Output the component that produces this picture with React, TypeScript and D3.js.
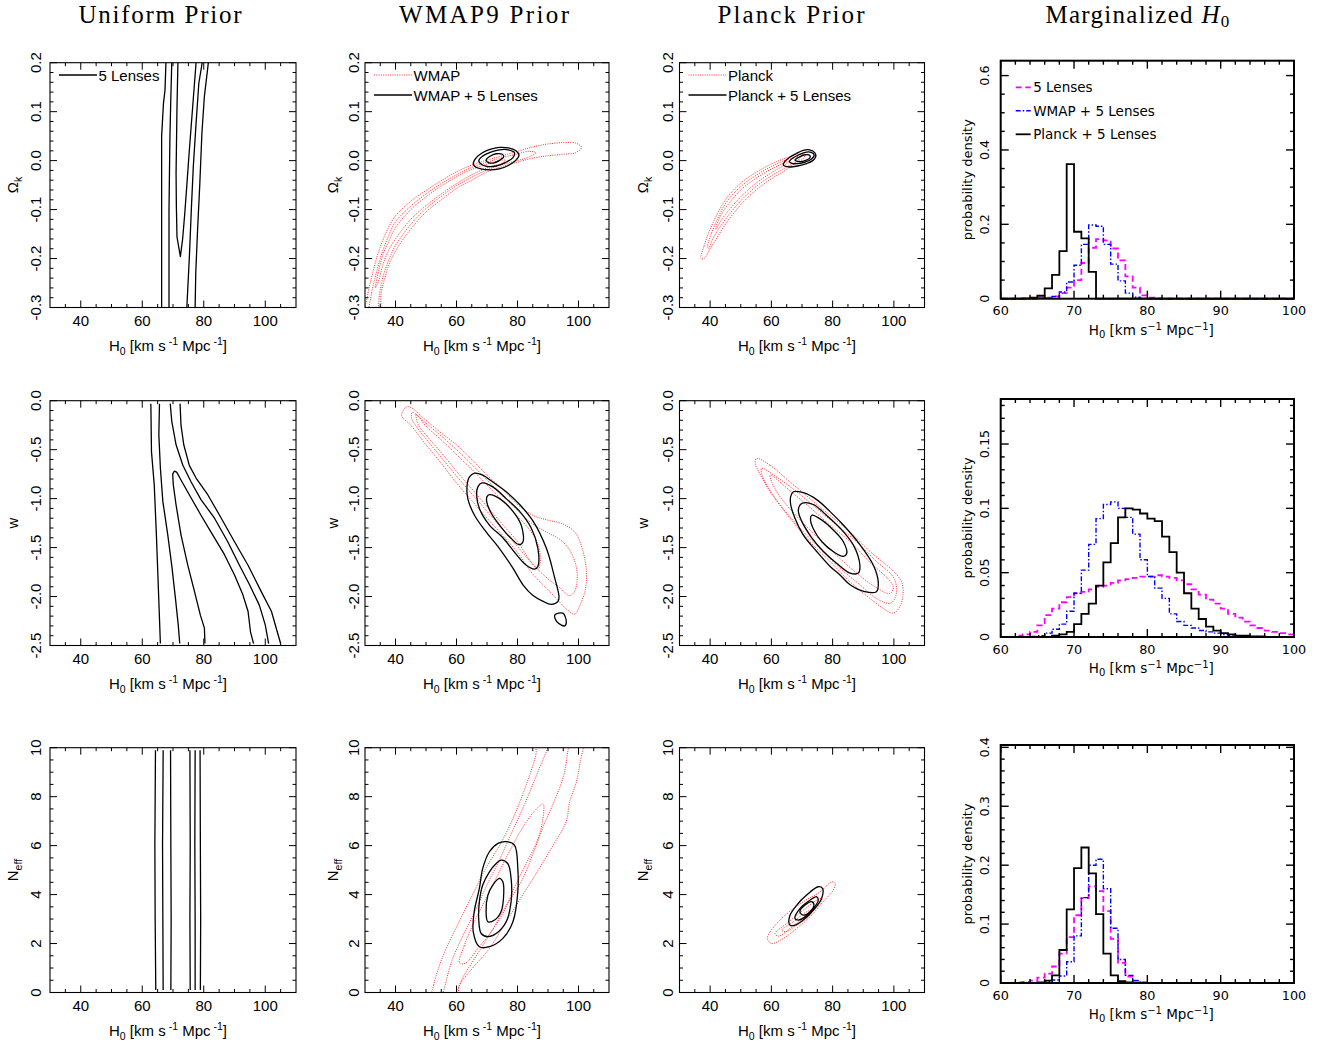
import React from "react";
import * as d3 from "d3";

type P = [number, number];

// ---------------- tick labels ----------------
const H0_TICKS = [40, 60, 80, 100];
const OK_TICKS = [-0.3, -0.2, -0.1, 0.0, 0.1, 0.2];
const W_TICKS = [-2.5, -2.0, -1.5, -1.0, -0.5, 0.0];
const N_TICKS = [0, 2, 4, 6, 8, 10];
const HIST_X_TICKS = [60, 70, 80, 90, 100];
const HIST_Y_TICKS_1 = [0, 0.2, 0.4, 0.6];
const HIST_Y_TICKS_2 = [0, 0.05, 0.1, 0.15];
const HIST_Y_TICKS_3 = [0, 0.1, 0.2, 0.3, 0.4];

// ---------------- histogram data (bins of width 1 from 60 to 100) ----------------
const HIST_BINS = d3.range(60, 100);

const H1_BLACK = [
  0, 0, 0, 0.001, 0.003, 0.008, 0.028, 0.064, 0.128, 0.362,
  0.18, 0.162, 0.072, 0, 0, 0, 0, 0, 0, 0,
  0, 0, 0, 0, 0, 0, 0, 0, 0, 0,
  0, 0, 0, 0, 0, 0, 0, 0, 0, 0,
];
const H1_BLUE = [
  0, 0, 0, 0, 0, 0.001, 0.002, 0.006, 0.018, 0.045,
  0.09, 0.146, 0.198, 0.195, 0.146, 0.093, 0.048, 0.015, 0.004, 0.001,
  0, 0, 0, 0, 0, 0, 0, 0, 0, 0,
  0, 0, 0, 0, 0, 0, 0, 0, 0, 0,
];
const H1_MAG = [
  0, 0, 0, 0, 0.001, 0.002, 0.003, 0.006, 0.015, 0.03,
  0.05, 0.096, 0.137, 0.16, 0.157, 0.135, 0.103, 0.06, 0.03, 0.009,
  0.003, 0.001, 0, 0, 0, 0, 0, 0, 0, 0,
  0, 0, 0, 0, 0, 0, 0, 0, 0, 0,
];
const H2_BLACK = [
  0, 0, 0, 0, 0, 0, 0, 0.001, 0.002, 0.004,
  0.01, 0.018, 0.026, 0.04, 0.058, 0.073, 0.093, 0.1, 0.099, 0.096,
  0.092, 0.09, 0.078, 0.066, 0.05, 0.034, 0.022, 0.014, 0.008, 0.005,
  0.003, 0.002, 0.001, 0.001, 0.0005, 0.0005, 0, 0, 0, 0,
];
const H2_BLUE = [
  0, 0, 0, 0, 0.0005, 0.001, 0.003, 0.006, 0.01, 0.02,
  0.034, 0.052, 0.072, 0.092, 0.103, 0.105, 0.1, 0.093, 0.08, 0.06,
  0.047, 0.038, 0.03, 0.018, 0.012, 0.009, 0.007, 0.005, 0.004, 0.003,
  0.002, 0.001, 0.001, 0.0005, 0.0005, 0, 0, 0, 0, 0,
];
const H2_MAG = [
  0, 0, 0.001, 0.002, 0.004, 0.009, 0.017, 0.022, 0.027, 0.031,
  0.034, 0.035, 0.037, 0.039, 0.04, 0.042, 0.044, 0.045, 0.046, 0.047,
  0.047, 0.048, 0.047, 0.046, 0.044, 0.041, 0.037, 0.033, 0.029, 0.026,
  0.022, 0.018, 0.015, 0.012, 0.009, 0.007, 0.005, 0.004, 0.003, 0.002,
];
const H3_BLACK = [
  0, 0, 0, 0, 0, 0.001, 0.004, 0.013, 0.056, 0.125,
  0.195, 0.23, 0.186, 0.117, 0.05, 0.013, 0.003, 0.001, 0, 0,
  0, 0, 0, 0, 0, 0, 0, 0, 0, 0,
  0, 0, 0, 0, 0, 0, 0, 0, 0, 0,
];
const H3_BLUE = [
  0, 0, 0, 0, 0, 0.0005, 0.002, 0.005, 0.012, 0.036,
  0.08, 0.145, 0.2, 0.21, 0.16, 0.093, 0.04, 0.013, 0.004, 0.001,
  0, 0, 0, 0, 0, 0, 0, 0, 0, 0,
  0, 0, 0, 0, 0, 0, 0, 0, 0, 0,
];
const H3_MAG = [
  0, 0, 0.001, 0.002, 0.004, 0.009, 0.016, 0.028, 0.05, 0.078,
  0.115, 0.144, 0.164, 0.156, 0.122, 0.075, 0.034, 0.011, 0.004, 0.001,
  0, 0, 0, 0, 0, 0, 0, 0, 0, 0,
  0, 0, 0, 0, 0, 0, 0, 0, 0, 0,
];

// ---------------- contour data: [H0, parameter] ----------------
// Uniform prior, Omega_k
const UNI_OK_OUT_L: P[] = [[66.3, -0.3], [66.3, -0.1], [66.3, 0.05], [66.9, 0.117], [67.4, 0.144], [67.7, 0.2]];
const UNI_OK_MID_L: P[] = [[68.7, -0.3], [68.7, -0.1], [69.0, 0.05], [69.3, 0.13], [69.6, 0.2]];
const UNI_OK_IN: P[] = [[71.6, 0.2], [71.3, 0.11], [71.0, -0.026], [71.1, -0.094], [71.3, -0.156], [72.4, -0.196], [73.1, -0.162], [73.8, -0.11], [74.5, -0.05], [75.3, 0.02], [76.4, 0.11], [77.5, 0.2]];
const UNI_OK_MID_R: P[] = [[74.5, -0.3], [75.3, -0.2], [76.0, -0.094], [76.6, -0.013], [77.5, 0.076], [78.4, 0.158], [79.5, 0.2]];
const UNI_OK_OUT_R: P[] = [[77.2, -0.3], [77.4, -0.23], [78.0, -0.14], [78.7, -0.05], [79.4, 0.056], [80.2, 0.131], [81.5, 0.2]];

// Uniform prior, w
const UNI_W_OUT_L: P[] = [[62.8, -0.03], [63.0, -0.52], [63.9, -0.86], [64.6, -1.37], [65.2, -1.88], [65.9, -2.48]];
const UNI_W_MID_L: P[] = [[65.6, -0.03], [65.4, -0.35], [65.9, -0.69], [66.7, -1.03], [68.3, -1.37], [69.7, -1.71], [70.9, -2.05], [71.7, -2.29], [72.2, -2.48]];
const UNI_W_IN: P[] = [[80.4, -2.48], [80.2, -2.32], [78.9, -2.19], [77.0, -1.95], [74.8, -1.68], [72.6, -1.37], [71.0, -1.065], [70.1, -0.86], [69.9, -0.75], [70.4, -0.72], [71.2, -0.73], [72.6, -0.81], [75.3, -0.96], [79.1, -1.17], [82.9, -1.37], [86.7, -1.57], [90.0, -1.78], [92.7, -1.98], [94.4, -2.15], [95.2, -2.36], [96.2, -2.48]];
const UNI_W_MID_R: P[] = [[69.1, -0.03], [69.6, -0.21], [71.0, -0.45], [73.2, -0.66], [75.9, -0.83], [79.1, -1.01], [83.5, -1.2], [87.8, -1.44], [91.6, -1.68], [94.9, -1.88], [98.1, -2.09], [100.0, -2.29], [101.1, -2.48]];
const UNI_W_OUT_R: P[] = [[72.3, -0.03], [72.6, -0.25], [73.5, -0.45], [75.3, -0.66], [77.5, -0.79], [81.3, -0.96], [85.7, -1.2], [90.0, -1.44], [94.4, -1.68], [98.7, -1.95], [102.0, -2.15], [103.9, -2.36], [105.0, -2.48]];

// Uniform prior, N_eff
const UNI_N_1: P[] = [[64.4, 0.1], [64.2, 3], [64.1, 6], [64.3, 9.9]];
const UNI_N_2: P[] = [[66.8, 0.1], [66.7, 3], [66.6, 6], [66.8, 9.9]];
const UNI_N_3: P[] = [[69.3, 0.1], [69.4, 3], [69.3, 6], [69.2, 9.9]];
const UNI_N_4: P[] = [[75.6, 0.1], [75.5, 3], [75.6, 6], [75.5, 9.9]];
const UNI_N_5: P[] = [[77.2, 0.1], [77.2, 3], [77.1, 6], [77.2, 9.9]];
const UNI_N_6: P[] = [[78.9, 0.1], [79.0, 3], [78.9, 6], [78.8, 9.9]];

// WMAP prior, Omega_k
const WMAP_OK_3: P[] = [[30.3, -0.32], [31, -0.27], [32.5, -0.23], [34, -0.195], [36, -0.16], [38, -0.133], [40, -0.113], [45, -0.083], [50, -0.061], [55, -0.041], [60, -0.023], [65, -0.009], [70, 0.001], [75, 0.01], [80, 0.019], [85, 0.028], [90, 0.034], [95, 0.037], [99, 0.036], [101, 0.027], [99, 0.016], [95, 0.013], [90, 0.01], [85, 0.005], [80, -0.003], [75, -0.012], [70, -0.023], [65, -0.04], [60, -0.057], [55, -0.08], [50, -0.105], [45, -0.14], [42, -0.165], [40, -0.185], [38, -0.21], [36.5, -0.24], [35.3, -0.27], [34.5, -0.32]];
const WMAP_OK_2: P[] = [[31.4, -0.32], [32.2, -0.27], [33.7, -0.23], [35.5, -0.19], [38, -0.15], [40, -0.125], [45, -0.093], [50, -0.068], [55, -0.047], [60, -0.029], [65, -0.014], [70, -0.003], [75, 0.006], [80, 0.014], [84, 0.019], [86, 0.016], [84, 0.008], [80, 0.0], [75, -0.008], [70, -0.019], [65, -0.034], [60, -0.051], [55, -0.073], [50, -0.098], [45, -0.13], [42, -0.155], [40, -0.173], [38, -0.2], [36, -0.235], [34.8, -0.27], [33.6, -0.32]];
const WMAP_OK_1: P[] = [[33.4, -0.26], [34.3, -0.23], [36, -0.19], [38, -0.162], [40, -0.137], [45, -0.1], [50, -0.074], [55, -0.052], [60, -0.033], [65, -0.018], [70, -0.007], [74, 0.0], [76, 0.001], [75, -0.005], [70, -0.015], [65, -0.029], [60, -0.047], [55, -0.068], [50, -0.092], [45, -0.12], [40, -0.16], [38, -0.18], [36, -0.21], [34.5, -0.245]];
const WMAP_L_OK_3: P[] = [[65.5, -0.006], [66.5, 0.006], [68.5, 0.016], [71, 0.023], [74, 0.027], [77, 0.026], [79.5, 0.02], [80.5, 0.011], [79.5, 0.001], [77, -0.01], [74, -0.017], [71, -0.019], [68, -0.017], [66, -0.012]];
const WMAP_L_OK_2: P[] = [[67.3, 0.0], [68.5, 0.009], [71, 0.017], [74, 0.022], [77, 0.022], [79, 0.016], [78.5, 0.006], [76, -0.004], [73, -0.011], [70, -0.012], [68, -0.007]];
const WMAP_L_OK_1: P[] = [[69.7, 0.001], [71, 0.009], [73, 0.014], [75, 0.013], [75.5, 0.008], [74, 0.0], [72, -0.005], [70.5, -0.004]];

// Planck prior, Omega_k
const PL_OK_3: P[] = [[37, -0.2], [38, -0.175], [40, -0.14], [45, -0.08], [50, -0.046], [55, -0.024], [60, -0.007], [65, 0.006], [69, 0.013], [71, 0.012], [70, 0.002], [68, -0.004], [65, -0.018], [60, -0.037], [55, -0.06], [50, -0.09], [45, -0.13], [42, -0.16], [40, -0.18], [38, -0.2]];
const PL_OK_2: P[] = [[39.2, -0.175], [40.5, -0.148], [45, -0.088], [50, -0.053], [55, -0.03], [60, -0.012], [65, 0.002], [68, 0.008], [69.5, 0.008], [68.5, 0.0], [65, -0.013], [60, -0.031], [55, -0.053], [50, -0.082], [45, -0.12], [41, -0.158], [39.5, -0.18]];
const PL_OK_1: P[] = [[41.8, -0.14], [43, -0.118], [45, -0.097], [50, -0.06], [55, -0.036], [60, -0.017], [64, -0.005], [66, 0.0], [65, -0.006], [60, -0.025], [55, -0.046], [50, -0.074], [45, -0.11], [43, -0.128], [42, -0.14]];
const PL_L_OK_3: P[] = [[63.9, -0.009], [64.5, -0.001], [66, 0.007], [68, 0.014], [70.4, 0.021], [72.5, 0.022], [74.2, 0.016], [74.5, 0.008], [73.5, 0.0], [71.5, -0.006], [68.5, -0.011], [66, -0.013]];
const PL_L_OK_2: P[] = [[65.9, -0.002], [67, 0.005], [69, 0.012], [71, 0.017], [73, 0.017], [74, 0.011], [73, 0.003], [71, -0.003], [68.5, -0.006], [67, -0.006]];
const PL_L_OK_1: P[] = [[67.7, 0.001], [69, 0.007], [71, 0.012], [72.5, 0.011], [72.6, 0.006], [71, 0.0], [69.3, -0.002]];

// WMAP prior, w
const WMAP_W_3: P[] = [[44, -0.06], [50, -0.2], [55, -0.33], [60, -0.45], [65, -0.6], [70, -0.76], [75, -0.9], [80, -1.06], [85, -1.17], [90, -1.22], [95, -1.26], [99, -1.35], [101.5, -1.54], [102.6, -1.75], [102.1, -1.95], [100.3, -2.1], [98.8, -2.18], [96.5, -2.14], [93, -2.03], [90, -1.93], [85, -1.77], [80, -1.55], [75, -1.37], [70, -1.2], [65, -1.02], [60, -0.84], [55, -0.64], [50, -0.45], [45, -0.25], [42, -0.15]];
const WMAP_W_2: P[] = [[45.5, -0.12], [50, -0.23], [55, -0.36], [60, -0.5], [65, -0.65], [70, -0.81], [75, -0.97], [80, -1.12], [85, -1.26], [90, -1.35], [94, -1.42], [97, -1.52], [99.3, -1.7], [99.5, -1.85], [98.5, -1.96], [97, -1.99], [93.5, -1.9], [90, -1.82], [85, -1.67], [80, -1.49], [75, -1.31], [70, -1.13], [65, -0.95], [60, -0.77], [55, -0.58], [50, -0.39], [47, -0.27], [45.3, -0.18]];
const WMAP_W_1: P[] = [[46.8, -0.14], [50, -0.26], [55, -0.4], [60, -0.55], [65, -0.7], [70, -0.86], [75, -1.02], [80, -1.18], [84, -1.32], [86.5, -1.45], [87.5, -1.6], [86.8, -1.72], [84.5, -1.65], [80, -1.44], [75, -1.26], [70, -1.08], [65, -0.9], [60, -0.72], [55, -0.53], [50, -0.35], [47.5, -0.25]];
const WMAP_L_W_3: P[] = [[65.9, -0.74], [68.6, -0.76], [71.9, -0.83], [76.3, -0.93], [80.7, -1.06], [85.1, -1.23], [89.5, -1.51], [92.2, -1.81], [93.6, -2.0], [93.3, -2.05], [91.1, -2.08], [88.4, -2.05], [85.1, -1.99], [81.8, -1.88], [78.5, -1.71], [74.1, -1.51], [69.7, -1.34], [65.9, -1.17], [63.7, -1.0], [63.5, -0.86], [64.2, -0.78]];
const WMAP_L_W_ISLAND: P[] = [[92.2, -2.19], [94.9, -2.17], [96, -2.26], [95.5, -2.3], [93, -2.26]];
const WMAP_L_W_2: P[] = [[68.4, -0.84], [71.9, -0.88], [76.3, -1.0], [80.7, -1.13], [84.5, -1.3], [86.7, -1.51], [86.7, -1.69], [85.6, -1.72], [82.9, -1.68], [79.6, -1.57], [75.2, -1.4], [70.8, -1.27], [67.5, -1.1], [66.6, -0.96], [67, -0.88]];
const WMAP_L_W_1: P[] = [[70.8, -0.96], [74.6, -1.01], [78.5, -1.13], [81.2, -1.27], [81.8, -1.44], [80.5, -1.47], [77.4, -1.39], [74.1, -1.27], [71.4, -1.15], [69.9, -1.03], [70, -0.98]];

// Planck prior, w
const PL_W_3: P[] = [[55.2, -0.59], [59.6, -0.66], [66.1, -0.83], [72.6, -1.0], [79.1, -1.17], [85.7, -1.34], [92.2, -1.54], [99.8, -1.74], [102.5, -1.85], [103, -1.98], [102, -2.1], [99.8, -2.17], [96.5, -2.12], [92.2, -2.02], [85.7, -1.85], [79.1, -1.64], [72.6, -1.44], [66.1, -1.2], [59.6, -0.93], [55.8, -0.72], [54.7, -0.64]];
const PL_W_2: P[] = [[56.8, -0.69], [61.7, -0.78], [68.3, -0.93], [74.8, -1.1], [81.3, -1.27], [87.8, -1.44], [94.3, -1.64], [99.8, -1.8], [100.9, -1.92], [100.3, -2.02], [98.7, -2.07], [94.3, -2.02], [88.9, -1.88], [82.4, -1.71], [75.9, -1.51], [69.3, -1.3], [62.8, -1.06], [58.5, -0.86], [56.8, -0.74]];
const PL_W_1: P[] = [[59.6, -0.76], [66.1, -0.92], [72.6, -1.09], [79.1, -1.27], [85.7, -1.44], [92.2, -1.65], [98.7, -1.84], [99.8, -1.91], [98.7, -1.97], [94.3, -1.91], [87.8, -1.76], [81.3, -1.58], [74.8, -1.39], [68.3, -1.18], [62.8, -0.98], [60.1, -0.83]];
const PL_L_W_3: P[] = [[67.2, -0.93], [70.4, -0.94], [74.8, -1.01], [79.1, -1.13], [83.5, -1.27], [88.9, -1.47], [93.3, -1.68], [94.9, -1.85], [94.3, -1.95], [90.5, -1.95], [85.7, -1.88], [82.4, -1.78], [79.1, -1.69], [74.8, -1.54], [70.4, -1.37], [67.7, -1.2], [66.3, -1.06], [66.3, -0.98]];
const PL_L_W_2: P[] = [[69.9, -1.05], [73.7, -1.06], [78, -1.17], [82.4, -1.3], [86.7, -1.47], [88.9, -1.68], [88.4, -1.76], [85.7, -1.76], [81.3, -1.66], [77, -1.54], [73.2, -1.4], [69.9, -1.23], [68.8, -1.12]];
const PL_L_W_1: P[] = [[73.2, -1.17], [76.5, -1.22], [80.2, -1.32], [83.5, -1.44], [84.6, -1.56], [83.5, -1.59], [80.2, -1.54], [76.5, -1.44], [73.9, -1.32], [72.8, -1.22]];

// WMAP prior, N_eff
const WMAP_N_3: P[] = [[51.8, -0.3], [52.5, 0.3], [54.4, 1.1], [56.6, 1.8], [60.9, 2.9], [65.3, 4.0], [69.7, 5.1], [74.1, 6.0], [78.5, 7.1], [82.9, 8.5], [86, 9.7], [86.6, 10.3], [101.2, 10.3], [100.5, 9.4], [99.3, 8.6], [97.1, 7.8], [96, 7.0], [91.6, 6.0], [87.3, 5.1], [81.8, 4.0], [76.3, 2.9], [70.8, 1.8], [65.3, 1.0], [61, 0.3], [60, -0.3]];
const WMAP_N_2: P[] = [[55.5, -0.3], [56.5, 0.4], [58.5, 1.3], [62, 2.3], [66, 3.3], [70, 4.4], [74, 5.4], [78, 6.5], [82, 7.6], [86, 8.8], [89, 9.7], [91.6, 10.3], [96.6, 10.3], [96.3, 9.7], [95, 8.8], [92, 7.8], [88.5, 6.8], [85.5, 5.8], [81.5, 4.6], [76, 3.5], [71.5, 2.5], [66.5, 1.5], [62, 0.6], [58.5, -0.3]];
const WMAP_N_1: P[] = [[61, 1.2], [62.5, 1.9], [65.5, 2.8], [69.5, 3.8], [73.5, 4.8], [77.5, 5.8], [81.5, 6.7], [85.5, 7.4], [88.4, 7.7], [88.2, 7.0], [86.5, 6.2], [83, 5.3], [79, 4.3], [75.5, 3.3], [71.5, 2.5], [67, 1.8], [63, 1.2]];
const WMAP_L_N_3: P[] = [[76.3, 6.16], [79, 6.02], [80.1, 5.07], [80.1, 4.11], [78.5, 2.89], [75.2, 2.21], [70.8, 1.87], [67.5, 1.87], [65.5, 2.48], [65.8, 3.3], [67.5, 4.25], [68.6, 5.07], [70.8, 5.75], [73.6, 6.09]];
const WMAP_L_N_2: P[] = [[74.6, 5.41], [76.8, 5.27], [77.9, 4.66], [77.9, 3.71], [76.3, 2.89], [73, 2.41], [70.3, 2.28], [68.1, 2.41], [67.3, 2.96], [67.5, 3.71], [68.6, 4.39], [70.8, 4.93], [73, 5.27]];
const WMAP_L_N_1: P[] = [[74.1, 4.66], [75.2, 4.52], [75.4, 3.84], [74.6, 3.3], [72.5, 2.96], [70.3, 2.89], [69.7, 3.3], [70.3, 3.98], [71.9, 4.39]];

// Planck prior, N_eff
const PL_N_3: P[] = [[58.7, 2.2], [59.6, 2.48], [63.9, 3.09], [70.4, 3.71], [75.9, 4.11], [79.7, 4.52], [80.8, 4.46], [80.2, 4.18], [76.9, 3.71], [72.6, 3.09], [68.3, 2.62], [63.9, 2.21], [60.1, 2.0]];
const PL_N_2: P[] = [[61.2, 2.41], [65, 2.82], [70.4, 3.36], [74.8, 3.77], [76.4, 3.84], [75.9, 3.64], [71.5, 3.16], [66.1, 2.62], [62.3, 2.3]];
const PL_N_1: P[] = [[63.4, 2.55], [67.2, 2.89], [71.5, 3.3], [73.2, 3.36], [72.6, 3.16], [68.3, 2.75], [64.5, 2.48]];
const PL_L_N_3: P[] = [[66.1, 2.75], [65.9, 3.09], [68.3, 3.57], [71.5, 3.98], [75.3, 4.32], [76.7, 4.25], [76.4, 3.84], [73.7, 3.36], [70.4, 2.96], [67.7, 2.75]];
const PL_L_N_2: P[] = [[67.7, 3.02], [69.3, 3.43], [72.6, 3.77], [74.8, 3.91], [75.3, 3.77], [73.7, 3.43], [71, 3.09], [68.8, 2.96]];
const PL_L_N_1: P[] = [[69.3, 3.3], [71, 3.57], [73.2, 3.71], [73.9, 3.57], [72.6, 3.3], [70.4, 3.16]];

// ---------------- styling ----------------
const RED = "#ff2b2b";
const MAGENTA = "#ff00ff";
const BLUE = "#0000ff";
const FONT_C = "'Liberation Sans', Arial, Helvetica, sans-serif";
const FONT_H = "'DejaVu Sans', Verdana, sans-serif";
const FONT_T = "'Liberation Serif', 'Times New Roman', serif";

const COL_X = [50, 365, 679.5];
const COL_W = [246, 244, 245];
const ROW_Y = [62.7, 400.7, 747.7];
const ROW_H = 244.8;
const HIST_X = 1000.7;
const HIST_W = 293.3;
const HIST_Y = [60.7, 399, 745];
const HIST_H = 238;

type Curve = { pts: P[]; kind: "red" | "black"; closed: boolean };

function minorTicks(d0: number, d1: number, step: number, majors: number[]) {
  return d3
    .range(d0, d1 + step * 0.01, step)
    .filter(
      (v) =>
        v > d0 + step * 0.01 &&
        v < d1 - step * 0.01 &&
        !majors.some((m) => Math.abs(m - v) < step * 0.01)
    );
}

function ContourXTitle({ cx, y }: { cx: number; y: number }) {
  return (
    <text x={cx} y={y} textAnchor="middle" fontFamily={FONT_C} fontSize={15} fill="#000">
      H<tspan fontSize={10.5} dy={4}>0</tspan>
      <tspan dy={-4}> [km s</tspan>
      <tspan fontSize={10.5} dy={-6} dx={3}>-1</tspan>
      <tspan dy={6}> Mpc</tspan>
      <tspan fontSize={10.5} dy={-6} dx={3}>-1</tspan>
      <tspan dy={6}>]</tspan>
    </text>
  );
}

function ContourPanel(props: {
  id: string;
  x: number;
  y: number;
  w: number;
  h: number;
  yDomain: [number, number];
  yTicks: number[];
  yMinorStep: number;
  yFmt: (v: number) => string;
  yTitle: React.ReactNode;
  yTickOff: number;
  yTitleOff: number;
  curves: Curve[];
  legend?: { label: string; kind: "red" | "black" }[];
}) {
  const { id, x, y, w, h, yDomain, yTicks, yMinorStep, yFmt, yTitle, yTickOff, yTitleOff, curves, legend } = props;
  const xs = d3.scaleLinear().domain([30, 110]).range([x, x + w]);
  const ys = d3.scaleLinear().domain(yDomain).range([y + h, y]);
  const lineOpen = d3.line<P>().x((d) => xs(d[0])).y((d) => ys(d[1]));
  const lineClosed = d3
    .line<P>()
    .x((d) => xs(d[0]))
    .y((d) => ys(d[1]))
    .curve(d3.curveCatmullRomClosed.alpha(0.5));
  const xMinor = minorTicks(30, 110, 5, H0_TICKS);
  const yMinor = minorTicks(yDomain[0], yDomain[1], yMinorStep, yTicks);
  const MAJ = 7;
  const MIN = 3.5;
  const tickStroke = { stroke: "#000", strokeWidth: 1 };
  return (
    <g>
      <defs>
        <clipPath id={id}>
          <rect x={x} y={y} width={w} height={h} />
        </clipPath>
      </defs>
      <g clipPath={`url(#${id})`}>
        {curves.map((c, i) => (
          <path
            key={i}
            d={(c.closed ? lineClosed(c.pts) : lineOpen(c.pts)) || ""}
            fill="none"
            stroke={c.kind === "red" ? RED : "#000"}
            strokeWidth={c.kind === "red" ? 1 : 1.3}
            strokeDasharray={c.kind === "red" ? "1 1.3" : undefined}
            strokeLinejoin="round"
          />
        ))}
      </g>
      {H0_TICKS.map((v) => (
        <g key={"xM" + v}>
          <line x1={xs(v)} x2={xs(v)} y1={y + h} y2={y + h - MAJ} {...tickStroke} />
          <line x1={xs(v)} x2={xs(v)} y1={y} y2={y + MAJ} {...tickStroke} />
        </g>
      ))}
      {xMinor.map((v) => (
        <g key={"xm" + v}>
          <line x1={xs(v)} x2={xs(v)} y1={y + h} y2={y + h - MIN} {...tickStroke} />
          <line x1={xs(v)} x2={xs(v)} y1={y} y2={y + MIN} {...tickStroke} />
        </g>
      ))}
      {yTicks.map((v) => (
        <g key={"yM" + v}>
          <line x1={x} x2={x + MAJ} y1={ys(v)} y2={ys(v)} {...tickStroke} />
          <line x1={x + w} x2={x + w - MAJ} y1={ys(v)} y2={ys(v)} {...tickStroke} />
        </g>
      ))}
      {yMinor.map((v, i) => (
        <g key={"ym" + i}>
          <line x1={x} x2={x + MIN} y1={ys(v)} y2={ys(v)} {...tickStroke} />
          <line x1={x + w} x2={x + w - MIN} y1={ys(v)} y2={ys(v)} {...tickStroke} />
        </g>
      ))}
      <rect x={x} y={y} width={w} height={h} fill="none" stroke="#000" strokeWidth={1.1} />
      {H0_TICKS.map((v) => (
        <text key={"xl" + v} x={xs(v)} y={y + h + 18.5} textAnchor="middle" fontFamily={FONT_C} fontSize={15}>
          {String(v)}
        </text>
      ))}
      {yTicks.map((v) => (
        <text
          key={"yl" + v}
          transform={`translate(${x - yTickOff},${ys(v)}) rotate(-90)`}
          textAnchor="middle"
          dy="0.35em"
          fontFamily={FONT_C}
          fontSize={15}
        >
          {yFmt(v)}
        </text>
      ))}
      <text
        transform={`translate(${x - yTitleOff},${y + h / 2}) rotate(-90)`}
        textAnchor="middle"
        dy="0.35em"
        fontFamily={FONT_C}
        fontSize={15}
      >
        {yTitle}
      </text>
      <ContourXTitle cx={x + w / 2 - 5} y={y + h + 43} />
      {legend &&
        legend.map((l, i) => (
          <g key={"lg" + i}>
            <line
              x1={x + 9}
              x2={x + 47}
              y1={y + 12.3 + i * 20}
              y2={y + 12.3 + i * 20}
              stroke={l.kind === "red" ? RED : "#000"}
              strokeWidth={l.kind === "red" ? 1 : 1.3}
              strokeDasharray={l.kind === "red" ? "1 1.3" : undefined}
            />
            <text x={x + 48.5} y={y + 17.8 + i * 20} fontFamily={FONT_C} fontSize={15}>
              {l.label}
            </text>
          </g>
        ))}
    </g>
  );
}

type HistSeries = { vals: number[]; color: string; dash?: string; width: number };

function HistPanel(props: {
  x: number;
  y: number;
  w: number;
  h: number;
  yMax: number;
  yTicks: number[];
  yMinorStep: number;
  series: HistSeries[];
  legend?: { label: string; s: HistSeries }[];
}) {
  const { x, y, w, h, yMax, yTicks, yMinorStep, series, legend } = props;
  const xs = d3.scaleLinear().domain([60, 100]).range([x, x + w]);
  const ys = d3.scaleLinear().domain([0, yMax]).range([y + h, y]);
  const step = d3
    .line<P>()
    .x((d) => xs(d[0]))
    .y((d) => ys(d[1]))
    .curve(d3.curveStepAfter);
  const xMinor = minorTicks(60, 100, 2, HIST_X_TICKS);
  const yMinor = minorTicks(0, yMax, yMinorStep, yTicks);
  const MAJ = 8;
  const MIN = 4;
  const ts = { stroke: "#000", strokeWidth: 1.4 };
  return (
    <g>
      {series.map((s, i) => {
        const pts: P[] = HIST_BINS.map((b, k) => [b, s.vals[k]] as P);
        pts.push([100, s.vals[s.vals.length - 1]]);
        return (
          <path
            key={i}
            d={step(pts) || ""}
            fill="none"
            stroke={s.color}
            strokeWidth={s.width}
            strokeDasharray={s.dash}
          />
        );
      })}
      {HIST_X_TICKS.map((v) => (
        <g key={"xM" + v}>
          <line x1={xs(v)} x2={xs(v)} y1={y + h} y2={y + h - MAJ} {...ts} />
          <line x1={xs(v)} x2={xs(v)} y1={y} y2={y + MAJ} {...ts} />
        </g>
      ))}
      {xMinor.map((v) => (
        <g key={"xm" + v}>
          <line x1={xs(v)} x2={xs(v)} y1={y + h} y2={y + h - MIN} {...ts} />
          <line x1={xs(v)} x2={xs(v)} y1={y} y2={y + MIN} {...ts} />
        </g>
      ))}
      {yTicks.map((v) => (
        <g key={"yM" + v}>
          <line x1={x} x2={x + MAJ} y1={ys(v)} y2={ys(v)} {...ts} />
          <line x1={x + w} x2={x + w - MAJ} y1={ys(v)} y2={ys(v)} {...ts} />
        </g>
      ))}
      {yMinor.map((v, i) => (
        <g key={"ym" + i}>
          <line x1={x} x2={x + MIN} y1={ys(v)} y2={ys(v)} {...ts} />
          <line x1={x + w} x2={x + w - MIN} y1={ys(v)} y2={ys(v)} {...ts} />
        </g>
      ))}
      <rect x={x} y={y} width={w} height={h} fill="none" stroke="#000" strokeWidth={2} />
      {HIST_X_TICKS.map((v) => (
        <text key={"xl" + v} x={xs(v)} y={y + h + 16.5} textAnchor="middle" fontFamily={FONT_H} fontSize={12.8}>
          {String(v)}
        </text>
      ))}
      {yTicks.map((v) => (
        <text
          key={"yl" + v}
          transform={`translate(${x - 16},${ys(v)}) rotate(-90)`}
          textAnchor="middle"
          dy="0.35em"
          fontFamily={FONT_H}
          fontSize={12.8}
        >
          {String(v)}
        </text>
      ))}
      <text
        transform={`translate(${x - 33},${y + h / 2}) rotate(-90)`}
        textAnchor="middle"
        dy="0.35em"
        fontFamily={FONT_H}
        fontSize={13}
      >
        probability density
      </text>
      <text x={x + w / 2 + 4} y={y + h + 36} textAnchor="middle" fontFamily={FONT_H} fontSize={13.5}>
        H<tspan fontSize={10} dy={3}>0</tspan>
        <tspan dy={-3}> [km s</tspan>
        <tspan fontSize={10} dy={-5}>−1</tspan>
        <tspan dy={5}> Mpc</tspan>
        <tspan fontSize={10} dy={-5}>−1</tspan>
        <tspan dy={5}>]</tspan>
      </text>
      {legend &&
        legend.map((l, i) => (
          <g key={"lg" + i}>
            <line
              x1={x + 15}
              x2={x + 30}
              y1={y + 26.6 + i * 23.5}
              y2={y + 26.6 + i * 23.5}
              stroke={l.s.color}
              strokeWidth={l.s.width}
              strokeDasharray={l.s.dash}
            />
            <text x={x + 32.5} y={y + 31.3 + i * 23.5} fontFamily={FONT_H} fontSize={13.5}>
              {l.label}
            </text>
          </g>
        ))}
    </g>
  );
}

const fmt1 = (v: number) => v.toFixed(1);
const fmt0 = (v: number) => String(v);

const black = (pts: P[], closed = true): Curve => ({ pts, kind: "black", closed });
const red = (pts: P[], closed = true): Curve => ({ pts, kind: "red", closed });

export default function App() {
  const okTitle = (
    <>
      Ω<tspan fontSize={10.5} dy={4}>k</tspan>
    </>
  );
  const nTitle = (
    <>
      N<tspan fontSize={10.5} dy={4}>eff</tspan>
    </>
  );
  const rows = [
    { yDomain: [-0.3, 0.2] as [number, number], yTicks: OK_TICKS, minor: 0.02, fmt: fmt1, title: okTitle },
    { yDomain: [-2.5, 0.0] as [number, number], yTicks: W_TICKS, minor: 0.1, fmt: fmt1, title: "w" },
    { yDomain: [0, 10] as [number, number], yTicks: N_TICKS, minor: 0.5, fmt: fmt0, title: nTitle },
  ];
  const curves: Curve[][][] = [
    [
      [black(UNI_OK_OUT_L, false), black(UNI_OK_MID_L, false), black(UNI_OK_IN, false), black(UNI_OK_MID_R, false), black(UNI_OK_OUT_R, false)],
      [red(WMAP_OK_3), red(WMAP_OK_2), red(WMAP_OK_1), black(WMAP_L_OK_3), black(WMAP_L_OK_2), black(WMAP_L_OK_1)],
      [red(PL_OK_3), red(PL_OK_2), red(PL_OK_1), black(PL_L_OK_3), black(PL_L_OK_2), black(PL_L_OK_1)],
    ],
    [
      [black(UNI_W_OUT_L, false), black(UNI_W_MID_L, false), black(UNI_W_IN, false), black(UNI_W_MID_R, false), black(UNI_W_OUT_R, false)],
      [red(WMAP_W_3), red(WMAP_W_2), red(WMAP_W_1), black(WMAP_L_W_3), black(WMAP_L_W_ISLAND), black(WMAP_L_W_2), black(WMAP_L_W_1)],
      [red(PL_W_3), red(PL_W_2), red(PL_W_1), black(PL_L_W_3), black(PL_L_W_2), black(PL_L_W_1)],
    ],
    [
      [black(UNI_N_1, false), black(UNI_N_2, false), black(UNI_N_3, false), black(UNI_N_4, false), black(UNI_N_5, false), black(UNI_N_6, false)],
      [red(WMAP_N_3), red(WMAP_N_2), red(WMAP_N_1), black(WMAP_L_N_3), black(WMAP_L_N_2), black(WMAP_L_N_1)],
      [red(PL_N_3), red(PL_N_2), red(PL_N_1), black(PL_L_N_3), black(PL_L_N_2), black(PL_L_N_1)],
    ],
  ];
  const legends = [
    [{ label: "5 Lenses", kind: "black" as const }],
    [
      { label: "WMAP", kind: "red" as const },
      { label: "WMAP + 5 Lenses", kind: "black" as const },
    ],
    [
      { label: "Planck", kind: "red" as const },
      { label: "Planck + 5 Lenses", kind: "black" as const },
    ],
  ];
  const tickOff = [14.5, 11.5, 11.8];
  const titleOff = [37, 32, 37];

  const mk = (vals: number[], kind: "mag" | "blue" | "black"): HistSeries =>
    kind === "mag"
      ? { vals, color: MAGENTA, dash: "6 3.5", width: 1.8 }
      : kind === "blue"
      ? { vals, color: BLUE, dash: "5 2 1.5 2", width: 1.4 }
      : { vals, color: "#000", width: 1.8 };

  const hist = [
    { yMax: 0.64, yTicks: HIST_Y_TICKS_1, minor: 0.05, s: [mk(H1_MAG, "mag"), mk(H1_BLUE, "blue"), mk(H1_BLACK, "black")] },
    { yMax: 0.185, yTicks: HIST_Y_TICKS_2, minor: 0.01, s: [mk(H2_MAG, "mag"), mk(H2_BLUE, "blue"), mk(H2_BLACK, "black")] },
    { yMax: 0.404, yTicks: HIST_Y_TICKS_3, minor: 0.02, s: [mk(H3_MAG, "mag"), mk(H3_BLUE, "blue"), mk(H3_BLACK, "black")] },
  ];

  return (
    <svg
      width={1329}
      height={1048}
      style={{ position: "absolute", left: 0, top: 0, background: "#fff" }}
    >
      <rect x={0} y={0} width={1329} height={1048} fill="#fff" />
      <text x={160} y={23} textAnchor="middle" fontFamily={FONT_T} fontSize={25} textLength={163} lengthAdjust="spacing">
        Uniform Prior
      </text>
      <text x={484} y={23} textAnchor="middle" fontFamily={FONT_T} fontSize={25} textLength={170} lengthAdjust="spacing">
        WMAP9 Prior
      </text>
      <text x={791} y={23} textAnchor="middle" fontFamily={FONT_T} fontSize={25} textLength={147} lengthAdjust="spacing">
        Planck Prior
      </text>
      <text x={1138} y={23} textAnchor="middle" fontFamily={FONT_T} fontSize={25} letterSpacing={1.3}>
        Marginalized <tspan fontStyle="italic">H</tspan>
        <tspan fontSize={17} dy={4}>0</tspan>
      </text>

      {rows.map((r, ri) =>
        COL_X.map((cx, ci) => (
          <ContourPanel
            key={`p${ri}${ci}`}
            id={`clip${ri}${ci}`}
            x={cx}
            y={ROW_Y[ri]}
            w={COL_W[ci]}
            h={ROW_H}
            yDomain={r.yDomain}
            yTicks={r.yTicks}
            yMinorStep={r.minor}
            yFmt={r.fmt}
            yTitle={r.title}
            yTickOff={tickOff[ci]}
            yTitleOff={titleOff[ci]}
            curves={curves[ri][ci]}
            legend={ri === 0 ? legends[ci] : undefined}
          />
        ))
      )}

      {hist.map((hp, ri) => (
        <HistPanel
          key={"h" + ri}
          x={HIST_X}
          y={HIST_Y[ri]}
          w={HIST_W}
          h={HIST_H}
          yMax={hp.yMax}
          yTicks={hp.yTicks}
          yMinorStep={hp.minor}
          series={hp.s}
          legend={
            ri === 0
              ? [
                  { label: "5 Lenses", s: hp.s[0] },
                  { label: "WMAP + 5 Lenses", s: hp.s[1] },
                  { label: "Planck + 5 Lenses", s: hp.s[2] },
                ]
              : undefined
          }
        />
      ))}
    </svg>
  );
}
